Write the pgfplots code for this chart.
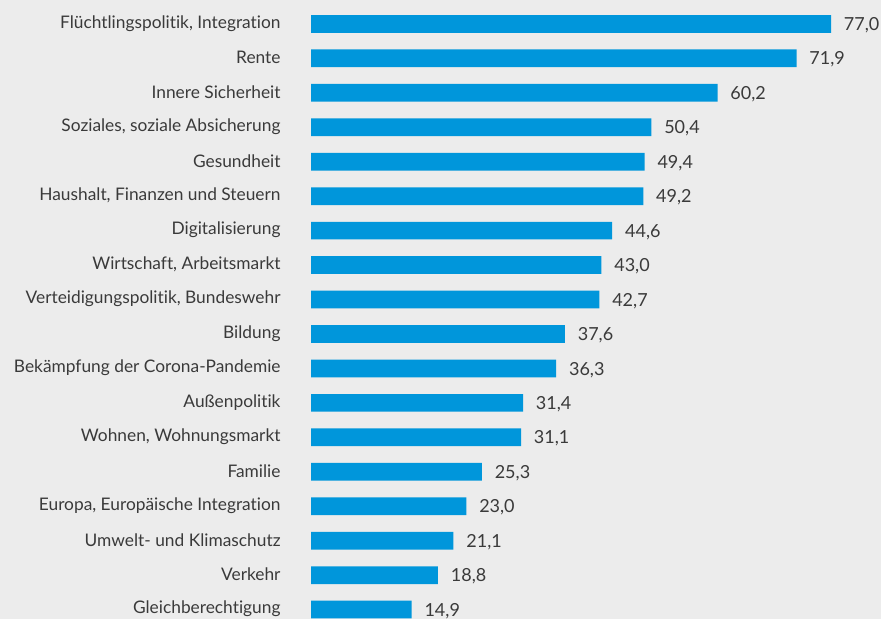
\documentclass[border=0pt]{standalone}
\usepackage{fontspec}
\setmainfont{Lato}[Ligatures=NoCommon]
\newfontfamily\numfont{Lato}[Numbers=Monospaced]
\usepackage{pgfplots}
\pgfplotsset{compat=1.18}
\definecolor{bg}{HTML}{ECECEC}
\definecolor{barc}{HTML}{0096DB}
\definecolor{txt}{HTML}{3A3A3A}
\begin{document}
\begin{tikzpicture}
\fill[bg] (0,0) rectangle (660.75pt,-464.25pt);
\useasboundingbox (0,0) rectangle (660.75pt,-464.25pt);
\begin{axis}[
  at={(233.25pt,-5.0pt)}, anchor=north west,
  scale only axis, width=390pt, height=465.1pt,
  xmin=0, xmax=77, ymin=-0.5, ymax=17.5, y dir=reverse,
  xbar, bar width=13.3pt, clip=false,
  axis line style={draw=none}, major tick style={draw=none},
  xtick=\empty, ytick={0,...,17},
  yticklabels={{Flüchtlingspolitik, Integration},Rente,Innere Sicherheit,{Soziales, soziale Absicherung},Gesundheit,{Haushalt, Finanzen und Steuern},Digitalisierung,{Wirtschaft, Arbeitsmarkt},{Verteidigungspolitik, Bundeswehr},Bildung,Bekämpfung der Corona-Pandemie,Außenpolitik,{Wohnen, Wohnungsmarkt},Familie,{Europa, Europäische Integration},Umwelt- und Klimaschutz,Verkehr,Gleichberechtigung},
  yticklabel style={font=\fontsize{13}{15}\selectfont, text=txt, inner sep=0pt, anchor=east, xshift=-18.4pt, yshift=0.5pt},
  nodes near coords={\pgfmathprintnumber[fixed,fixed zerofill,precision=1,use comma,assume math mode=true]{\pgfplotspointmeta}},
  nodes near coords style={font=\numfont\fontsize{13.5}{16}\selectfont, text=txt, inner sep=0pt, anchor=west, xshift=9.5pt, yshift=-1pt},
]
\addplot[fill=barc, draw=none] coordinates {
(77.0,0) (71.9,1) (60.2,2) (50.4,3) (49.4,4) (49.2,5) (44.6,6) (43.0,7) (42.7,8)
(37.6,9) (36.3,10) (31.4,11) (31.1,12) (25.3,13) (23.0,14) (21.1,15) (18.8,16) (14.9,17)};
\end{axis}
\end{tikzpicture}
\end{document}
